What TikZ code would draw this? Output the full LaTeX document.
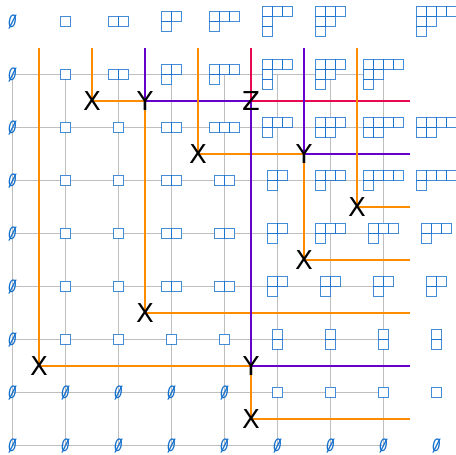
\documentclass[tikz,border=0pt]{standalone}
\usepackage{fontspec}
\setmainfont{DejaVu Sans}
\definecolor{yblue}{RGB}{20,112,205}
\definecolor{lorange}{RGB}{255,140,0}
\definecolor{lpurple}{RGB}{102,0,204}
\definecolor{lred}{RGB}{232,10,80}
\definecolor{lgray}{RGB}{190,190,190}
\pgfdeclarelayer{gridlayer}
\pgfdeclarelayer{linelayer}
\pgfsetlayers{gridlayer,linelayer,main}
\tikzset{
  yfill/.style={fill=white, draw=none},
  ybox/.style={draw=yblue, draw opacity=0.8, line width=1.6bp},
  eset/.style={text=yblue, font=\fontsize{17bp}{17bp}\selectfont, inner sep=0pt},
  letter/.style={font=\fontsize{26bp}{26bp}\selectfont, inner sep=0pt, text=black},
  ol/.style={draw=lorange, line width=2bp},
  pl/.style={draw=lpurple, line width=2bp},
  rl/.style={draw=lred, line width=2bp},
  gl/.style={draw=lgray, line width=1.2bp},
}
\newcommand{\esym}{\makebox[0pt]{\scalebox{0.8}[1]{\itshape 0}}\makebox[0pt]{\itshape /}}
% Young diagram: #1 position, #2 first-row length, #3 number of rows, #4 row lengths
\newcommand{\yd}[4]{%
  \begin{scope}[shift={#1}]
    \foreach \len [count=\r from 0] in {#4} {
      \pgfmathsetmacro\xx{-#2*5}
      \pgfmathsetmacro\yy{#3*5-\r*10}
      \pgfmathsetmacro\ww{\len*10}
      \fill[yfill] (\xx bp,\yy bp) rectangle ++(\ww bp,-10bp);
    }
    \foreach \len [count=\r from 0] in {#4} {
      \foreach \c in {1,...,\len} {
        \pgfmathsetmacro\xx{(\c-1)*10-#2*5}
        \pgfmathsetmacro\yy{#3*5-\r*10}
        \draw[ybox] (\xx bp,\yy bp) rectangle ++(10bp,-10bp);
      }
    }
  \end{scope}}
\begin{document}
\begin{tikzpicture}[x=53bp,y=53bp]
\useasboundingbox (-12.5bp,-9.5bp) rectangle (443.5bp,445.5bp);
% grid
\begin{pgfonlayer}{gridlayer}
  \foreach \k in {0,...,7} {
    \draw[gl] (\k,0) -- (\k,7);
    \draw[gl] (0,\k) -- (7,\k);
  }
\end{pgfonlayer}
% empty sets
\foreach \i in {0,...,8} { \node[eset] (e\i-0) at (\i,0) {\esym}; }
\foreach \i in {0,...,4} { \node[eset] (e\i-1) at (\i,1) {\esym}; }
\foreach \j in {2,...,8} { \node[eset] (e0-\j) at (0,\j) {\esym}; }
% Young diagrams
% j = 8
\yd{(1,8)}{1}{1}{1} \yd{(2,8)}{2}{1}{2} \yd{(3,8)}{2}{2}{2,1} \yd{(4,8)}{3}{2}{3,1}
\yd{(5,8)}{3}{3}{3,1,1} \yd{(6,8)}{3}{3}{3,2,1} \yd{(8,8)}{4}{3}{4,2,1}
% j = 7
\yd{(1,7)}{1}{1}{1} \yd{(2,7)}{2}{1}{2} \yd{(3,7)}{2}{2}{2,1} \yd{(4,7)}{3}{2}{3,1}
\yd{(5,7)}{3}{3}{3,1,1} \yd{(6,7)}{3}{3}{3,2,1} \yd{(7,7)}{4}{3}{4,2,1}
% j = 6
\yd{(1,6)}{1}{1}{1} \yd{(2,6)}{1}{1}{1} \yd{(3,6)}{2}{1}{2} \yd{(4,6)}{3}{1}{3}
\yd{(5,6)}{3}{2}{3,1} \yd{(6,6)}{3}{2}{3,2} \yd{(7,6)}{4}{2}{4,2} \yd{(8,6)}{4}{2}{4,2}
% j = 5
\yd{(1,5)}{1}{1}{1} \yd{(2,5)}{1}{1}{1} \yd{(3,5)}{2}{1}{2} \yd{(4,5)}{2}{1}{2}
\yd{(5,5)}{2}{2}{2,1} \yd{(6,5)}{3}{2}{3,1} \yd{(7,5)}{4}{2}{4,1} \yd{(8,5)}{4}{2}{4,1}
% j = 4
\yd{(1,4)}{1}{1}{1} \yd{(2,4)}{1}{1}{1} \yd{(3,4)}{2}{1}{2} \yd{(4,4)}{2}{1}{2}
\yd{(5,4)}{2}{2}{2,1} \yd{(6,4)}{3}{2}{3,1} \yd{(7,4)}{3}{2}{3,1} \yd{(8,4)}{3}{2}{3,1}
% j = 3
\yd{(1,3)}{1}{1}{1} \yd{(2,3)}{1}{1}{1} \yd{(3,3)}{2}{1}{2} \yd{(4,3)}{2}{1}{2}
\yd{(5,3)}{2}{2}{2,1} \yd{(6,3)}{2}{2}{2,1} \yd{(7,3)}{2}{2}{2,1} \yd{(8,3)}{2}{2}{2,1}
% j = 2
\yd{(1,2)}{1}{1}{1} \yd{(2,2)}{1}{1}{1} \yd{(3,2)}{1}{1}{1} \yd{(4,2)}{1}{1}{1}
\yd{(5,2)}{1}{2}{1,1} \yd{(6,2)}{1}{2}{1,1} \yd{(7,2)}{1}{2}{1,1} \yd{(8,2)}{1}{2}{1,1}
% j = 1
\yd{(5,1)}{1}{1}{1} \yd{(6,1)}{1}{1}{1} \yd{(7,1)}{1}{1}{1} \yd{(8,1)}{1}{1}{1}
% markers
\node[letter] (X1) at (1.5,6.5) {X};
\node[letter] (Y1) at (2.5,6.5) {Y};
\node[letter] (Z1) at (4.5,6.5) {Z};
\node[letter] (X2) at (3.5,5.5) {X};
\node[letter] (Y2) at (5.5,5.5) {Y};
\node[letter] (X3) at (6.5,4.5) {X};
\node[letter] (X4) at (5.5,3.5) {X};
\node[letter] (X5) at (2.5,2.5) {X};
\node[letter] (X6) at (0.5,1.5) {X};
\node[letter] (Y3) at (4.5,1.5) {Y};
\node[letter] (X7) at (4.5,0.5) {X};
% free ends
\coordinate (tX6) at (0.5,7.5);
\coordinate (tX1) at (1.5,7.5);
\coordinate (tY1) at (2.5,7.5);
\coordinate (tX2) at (3.5,7.5);
\coordinate (tZ1) at (4.5,7.5);
\coordinate (tY2) at (5.5,7.5);
\coordinate (tX3) at (6.5,7.5);
\coordinate (rZ1) at (7.5,6.5);
\coordinate (rY2) at (7.5,5.5);
\coordinate (rX3) at (7.5,4.5);
\coordinate (rX4) at (7.5,3.5);
\coordinate (rX5) at (7.5,2.5);
\coordinate (rY3) at (7.5,1.5);
\coordinate (rX7) at (7.5,0.5);
% lines
\begin{pgfonlayer}{linelayer}
  \draw[ol] (X1.center) -- (tX1);
  \draw[ol] (X1.center) -- (Y1.center);
  \draw[ol] (X5.center) -- (Y1.center);
  \draw[pl] (Y1.center) -- (tY1);
  \draw[pl] (Y1.center) -- (Z1.center);
  \draw[rl] (Z1.center) -- (tZ1);
  \draw[rl] (Z1.center) -- (rZ1);
  \draw[ol] (X2.center) -- (tX2);
  \draw[ol] (X2.center) -- (Y2.center);
  \draw[ol] (X4.center) -- (Y2.center);
  \draw[pl] (Y2.center) -- (tY2);
  \draw[pl] (Y2.center) -- (rY2);
  \draw[ol] (X3.center) -- (tX3);
  \draw[ol] (X3.center) -- (rX3);
  \draw[ol] (X4.center) -- (rX4);
  \draw[ol] (X5.center) -- (rX5);
  \draw[ol] (X6.center) -- (tX6);
  \draw[ol] (X6.center) -- (Y3.center);
  \draw[ol] (X7.center) -- (Y3.center);
  \draw[ol] (X7.center) -- (rX7);
  \draw[pl] (Y3.center) -- (Z1.center);
  \draw[pl] (Y3.center) -- (rY3);
\end{pgfonlayer}
\end{tikzpicture}
\end{document}
